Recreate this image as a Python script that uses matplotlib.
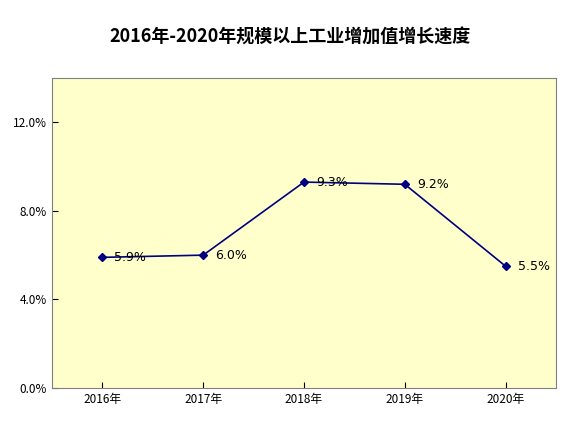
import matplotlib.pyplot as plt
from matplotlib.ticker import FuncFormatter

plt.rcParams['font.family'] = ['Noto Sans CJK SC', 'DejaVu Sans']

years = ['2016年', '2017年', '2018年', '2019年', '2020年']
growth = [5.9, 6.0, 9.3, 9.2, 5.5]

fig = plt.figure(figsize=(5.8, 4.44), dpi=100)
ax = fig.add_axes([52 / 580, 56 / 444, 504 / 580, 310 / 444])
ax.set_facecolor('#FFFFCC')

x = range(len(years))
ax.plot(x, growth, color='#000080', lw=1.2, marker='D', ms=4,
        markerfacecolor='#000080')
for i, v in zip(x, growth):
    ax.text(i + 0.12, v, f'{v:.1f}%', fontsize=9, va='center', ha='left',
            family='DejaVu Sans')

ax.set_xlim(-0.5, 4.5)
ax.set_ylim(0, 14)
ax.set_yticks([0, 4, 8, 12])
ax.yaxis.set_major_formatter(FuncFormatter(lambda v, p: f'{v:.1f}%'))
ax.set_xticks(list(x))
ax.set_xticklabels(years)
ax.tick_params(labelsize=8.5, direction='in', length=4)
for s in ax.spines.values():
    s.set_color('#808080')
    s.set_linewidth(0.8)

fig.text(0.5, 0.905, '2016年-2020年规模以上工业增加值增长速度',
         ha='center', fontsize=13, fontweight='bold')

fig.savefig('out.png', dpi=100)
